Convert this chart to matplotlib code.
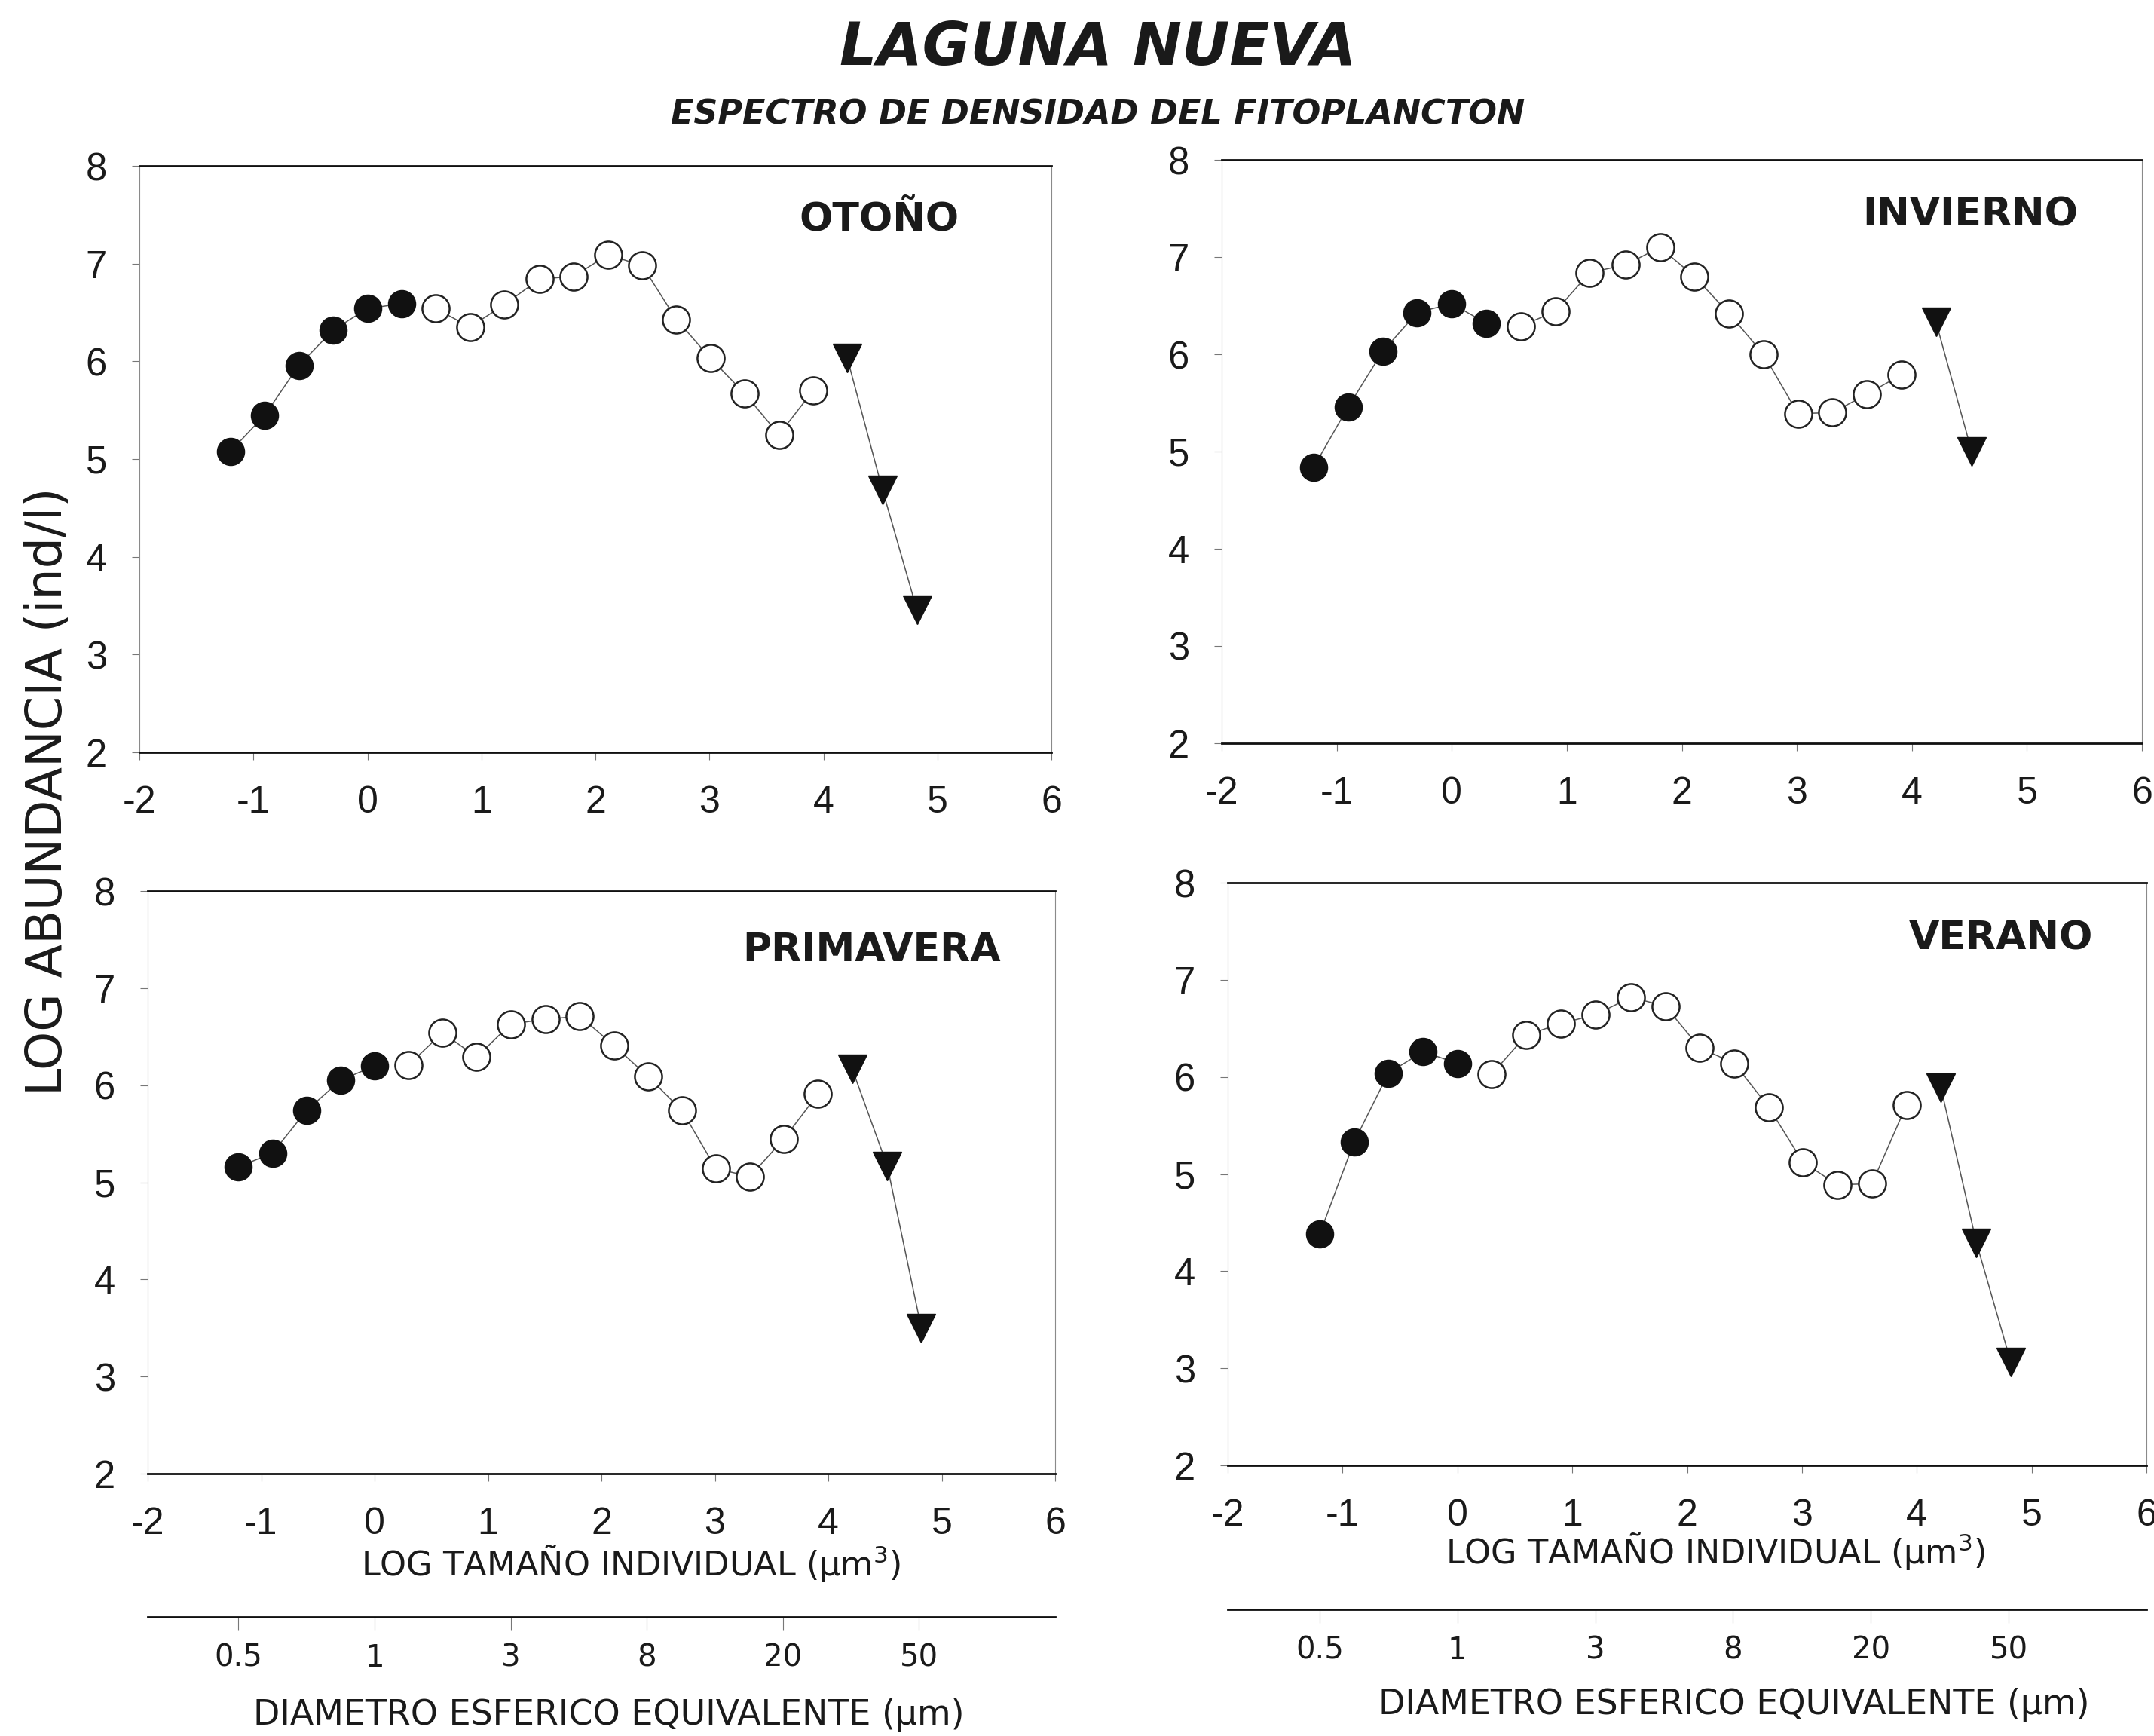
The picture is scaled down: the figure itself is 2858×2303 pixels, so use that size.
import matplotlib
matplotlib.use("Agg")
import matplotlib.pyplot as plt

# ---------------------------------------------------------------
# Datos: espectro de densidad del fitoplancton, Laguna Nueva
# ---------------------------------------------------------------
# Clases de tamaño (log10 del volumen individual, um^3), en octavas
clases_log = [-1.20, -0.90, -0.60, -0.30, 0.00, 0.30, 0.60, 0.90, 1.20, 1.51,
              1.81, 2.11, 2.41, 2.71, 3.01, 3.31, 3.61, 3.91, 4.21, 4.52, 4.82]

estaciones = ["OTOÑO", "INVIERNO", "PRIMAVERA", "VERANO"]

# log abundancia (ind/l): picoplancton (llenos), nano/microplancton (abiertos),
# y clases mayores (triángulos)
otono_llenos = [5.08, 5.45, 5.96, 6.32, 6.54, 6.59]
otono_abiertos = [6.54, 6.35, 6.58, 6.84, 6.87, 7.09, 6.98, 6.43, 6.03, 5.67,
                  5.25, 5.70]
otono_triang = [6.03, 4.68, 3.46]

invierno_llenos = [4.84, 5.46, 6.03, 6.43, 6.52, 6.32]
invierno_abiertos = [6.29, 6.44, 6.84, 6.92, 7.10, 6.80, 6.42, 6.00, 5.39, 5.40,
                     5.59, 5.79]
invierno_triang = [6.33, 5.00]

primavera_llenos = [5.16, 5.30, 5.74, 6.05, 6.20]
primavera_abiertos = [6.21, 6.54, 6.29, 6.63, 6.68, 6.71, 6.41, 6.09, 5.74, 5.14,
                      5.06, 5.45, 5.91]
primavera_triang = [6.17, 5.17, 3.50]

verano_llenos = [4.38, 5.33, 6.04, 6.26, 6.14]
verano_abiertos = [6.03, 6.43, 6.55, 6.64, 6.82, 6.73, 6.30, 6.14, 5.69, 5.12,
                   4.89, 4.90, 5.71]
verano_triang = [5.89, 4.29, 3.06]

# Ejes
x_ticks = [-2, -1, 0, 1, 2, 3, 4, 5, 6]
y_ticks = [2, 3, 4, 5, 6, 7, 8]

# Escala secundaria: diámetro esférico equivalente (um)
diam_pos = [-1.2, 0.0, 1.2, 2.4, 3.6, 4.8]
diam_labels = ["0.5", "1", "3", "8", "20", "50"]

# ---------------------------------------------------------------
W, H, DPI = 2858, 2303, 100
plt.rcParams["axes.unicode_minus"] = False
plt.rcParams["font.family"] = ["Liberation Sans", "DejaVu Sans"]

TXT = "#1a1a1a"
LAB_FONT = ["DejaVu Sans"]

fig = plt.figure(figsize=(W / DPI, H / DPI), dpi=DPI, facecolor="white")


def frac_rect(left, top, right, bottom):
    """Pixel box -> figure fraction rectangle."""
    return [left / W, 1 - bottom / H, (right - left) / W, (bottom - top) / H]


paneles = [
    (frac_rect(185, 220, 1395, 998), otono_llenos, otono_abiertos, otono_triang,
     (4.49, 7.45)),
    (frac_rect(1621, 212, 2842, 986), invierno_llenos, invierno_abiertos,
     invierno_triang, (4.51, 7.43)),
    (frac_rect(196, 1182, 1400, 1955), primavera_llenos, primavera_abiertos,
     primavera_triang, (4.38, 7.39)),
    (frac_rect(1629, 1171, 2848, 1944), verano_llenos, verano_abiertos,
     verano_triang, (4.73, 7.42)),
]

ejes = []
for nombre, (rect, llenos, abiertos, triang, pos_nombre) in zip(estaciones, paneles):
    ax = fig.add_axes(rect)
    ax.set_xlim(-2, 6)
    ax.set_ylim(2, 8)
    ax.set_xticks(x_ticks)
    ax.set_yticks(y_ticks)
    ax.set_facecolor("white")

    for s in ("top", "bottom"):
        ax.spines[s].set_linewidth(2.0)
        ax.spines[s].set_color("#111111")
    for s in ("left", "right"):
        ax.spines[s].set_linewidth(0.8)
        ax.spines[s].set_color("#8a8a8a")

    ax.tick_params(axis="x", direction="out", length=7, width=0.8, color="#777777",
                   pad=25, labelsize=36, labelcolor=TXT)
    ax.tick_params(axis="y", direction="out", length=7, width=0.8, color="#777777",
                   pad=24, labelsize=36.5, labelcolor=TXT)

    n1 = len(llenos)
    n2 = n1 + len(abiertos)
    x_llenos = clases_log[:n1]
    x_abiertos = clases_log[n1:n2]
    x_triang = clases_log[n2:n2 + len(triang)]

    estilo_linea = dict(color="#555555", linewidth=1.1)
    ax.plot(x_llenos, llenos, marker="o", markersize=26, markerfacecolor="#111111",
            markeredgecolor="#111111", markeredgewidth=1.0, **estilo_linea)
    ax.plot(x_abiertos, abiertos, marker="o", markersize=26, markerfacecolor="white",
            markeredgecolor="#222222", markeredgewidth=1.8, **estilo_linea)
    ax.plot(x_triang, triang, marker="v", markersize=27, markerfacecolor="#111111",
            markeredgecolor="#111111", markeredgewidth=1.0, **estilo_linea)

    ax.text(pos_nombre[0], pos_nombre[1], nombre, ha="center", va="center",
            fontsize=37.5, fontweight="bold", color=TXT, family=LAB_FONT)
    ejes.append(ax)

# Títulos
fig.text(1457 / W, 1 - 64 / H, "LAGUNA NUEVA", ha="center", va="center",
         fontsize=56, fontweight="bold", fontstyle="italic", color=TXT,
         family=LAB_FONT)
fig.text(1457 / W, 1 - 152 / H, "ESPECTRO DE DENSIDAD DEL FITOPLANCTON",
         ha="center", va="center", fontsize=32, fontweight="bold",
         fontstyle="italic", color=TXT, family=LAB_FONT)

# Rótulo común del eje y
fig.text(64 / W, 1 - 1050 / H, "LOG ABUNDANCIA (ind/l)", ha="center", va="center",
         rotation=90, fontsize=47, color=TXT, family=LAB_FONT)

# Rótulos del eje x y escala de diámetro bajo los paneles inferiores
xlabel = "LOG TAMAÑO INDIVIDUAL (μm$^{3}$)"
dlabel = "DIAMETRO ESFERICO EQUIVALENTE (μm)"
inferiores = [
    (ejes[2], 837, 2074, 2145, 808, 2275),
    (ejes[3], 2276, 2058, 2135, 2301, 2262),
]
for ax, xl_x, xl_y, linea_y, dl_x, dl_y in inferiores:
    fig.text(xl_x / W, 1 - xl_y / H, xlabel, ha="center", va="center",
             fontsize=32, color=TXT, family=LAB_FONT)

    pos = ax.get_position()
    ax2 = fig.add_axes([pos.x0, 1 - linea_y / H, pos.width, 0.0004])
    ax2.set_xlim(-2, 6)
    ax2.set_yticks([])
    ax2.patch.set_visible(False)
    for s in ("top", "left", "right"):
        ax2.spines[s].set_visible(False)
    ax2.spines["bottom"].set_linewidth(2.0)
    ax2.spines["bottom"].set_color("#111111")
    ax2.set_xticks(diam_pos)
    ax2.set_xticklabels(diam_labels, family=LAB_FONT)
    ax2.tick_params(axis="x", direction="out", length=13, width=0.8,
                    color="#777777", pad=12, labelsize=29, labelcolor=TXT)

    fig.text(dl_x / W, 1 - dl_y / H, dlabel, ha="center", va="center",
             fontsize=33, color=TXT, family=LAB_FONT)

fig.savefig("out.png", dpi=DPI, facecolor="white")
